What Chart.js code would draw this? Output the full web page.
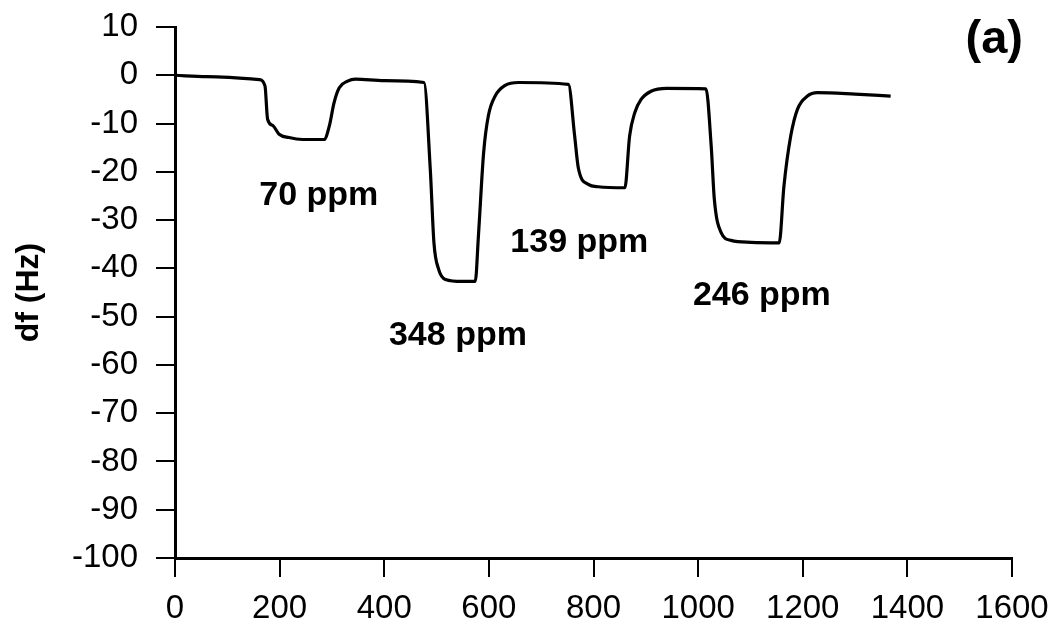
<!DOCTYPE html>
<html>
<head>
<meta charset="utf-8">
<script src="https://cdn.jsdelivr.net/npm/chart.js@4.4.1/dist/chart.umd.min.js"></script>
<style>
  html, body { margin: 0; padding: 0; background: #fff; }
  #wrap { width: 1057px; height: 631px; }
</style>
</head>
<body>
<div id="wrap"><canvas id="c" width="1057" height="631"></canvas></div>
<script>
// Time (s) and frequency shift df (Hz)
const timeX = [0, 60, 161, 172, 177, 187, 199, 218, 244, 285, 295, 304, 314, 330, 345, 400, 476,
  488, 495, 504, 517, 549, 574, 580, 590, 599, 612, 631, 657, 752,
  764, 771, 790, 809, 860, 869, 879, 891, 910, 940, 1015,
  1025, 1031, 1044, 1063, 1101, 1155, 1164, 1177, 1190, 1209, 1228, 1300, 1368];
const dfValues = [0, -0.3, -0.9, -2.2, -9.1, -10.4, -12.2, -12.9, -13.3, -13.3, -10.5, -5.7, -2.6, -1.2, -0.8, -1.1, -1.5,
  -19.5, -34.7, -40.2, -42.3, -42.7, -42.7, -33.3, -16, -8.4, -4.3, -2.1, -1.5, -1.9,
  -12.6, -19.2, -22.6, -23.1, -23.3, -12.6, -7.7, -5, -3.3, -2.7, -2.8,
  -14.7, -25.7, -32.6, -34.2, -34.6, -34.7, -23, -12.6, -7, -4.3, -3.6, -3.9, -4.3];

// Concentration labels and their anchor points (data coordinates)
const concLabels = ['70 ppm', '348 ppm', '139 ppm', '246 ppm'];
const concLabelX = [161, 409, 641, 990];
const concLabelY = [-26.8, -55.8, -36.7, -47.5];
const panelLabel = '(a)';
const yTitle = 'df (Hz)';

const xMin = 0, xMax = 1600, xStep = 200;
const yMin = -100, yMax = 10, yStep = 10;

const points = timeX.map((t, i) => ({ x: t, y: dfValues[i] }));

const annotPlugin = {
  id: 'annot',
  afterDraw(chart) {
    const ctx = chart.ctx;
    const xs = chart.scales.x, ys = chart.scales.y;
    ctx.save();
    ctx.fillStyle = '#000';
    ctx.font = 'bold 34px "Liberation Sans", Arial, sans-serif';
    ctx.textAlign = 'left';
    ctx.textBaseline = 'alphabetic';
    concLabels.forEach((txt, i) => {
      ctx.fillText(txt, xs.getPixelForValue(concLabelX[i]), ys.getPixelForValue(concLabelY[i]));
    });
    ctx.font = 'bold 47px "Liberation Sans", Arial, sans-serif';
    ctx.textAlign = 'right';
    ctx.fillText(panelLabel, chart.chartArea.right + 11, chart.chartArea.top + 26);
    ctx.restore();
  }
};

new Chart(document.getElementById('c'), {
  type: 'line',
  data: {
    datasets: [{
      data: points,
      borderColor: '#000',
      borderWidth: 3.2,
      pointRadius: 0,
      fill: false,
      cubicInterpolationMode: 'monotone'
    }]
  },
  options: {
    responsive: false,
    animation: false,
    devicePixelRatio: 1,
    layout: { padding: { left: 0, top: 27, right: 45, bottom: 0 } },
    plugins: { legend: { display: false }, tooltip: { enabled: false } },
    scales: {
      x: {
        type: 'linear',
        min: xMin, max: xMax,
        afterFit(s) { s.height = 73; s.paddingLeft = 0; s.paddingRight = 0; },
        ticks: { stepSize: xStep, color: '#000', padding: 12, maxRotation: 0,
          callback: (v) => String(v),
          font: { family: '"Liberation Sans", Arial, sans-serif', size: 33 } },
        grid: { drawOnChartArea: false, drawTicks: true, tickLength: 19, color: '#000', lineWidth: 2 },
        border: { display: true, color: '#000', width: 3 }
      },
      y: {
        type: 'linear',
        min: yMin, max: yMax,
        afterFit(s) { s.width = 175; s.paddingTop = 0; s.paddingBottom = 0; },
        ticks: { stepSize: yStep, color: '#000', padding: 18,
          callback: (v) => String(v),
          font: { family: '"Liberation Sans", Arial, sans-serif', size: 33 } },
        grid: { drawOnChartArea: false, drawTicks: true, tickLength: 19, color: '#000', lineWidth: 2 },
        border: { display: true, color: '#000', width: 3 },
        title: { display: true, text: yTitle, color: '#000', padding: { top: 10, bottom: 0 },
          font: { family: '"Liberation Sans", Arial, sans-serif', size: 32, weight: 'bold' } }
      }
    }
  },
  plugins: [annotPlugin]
});
</script>
</body>
</html>
